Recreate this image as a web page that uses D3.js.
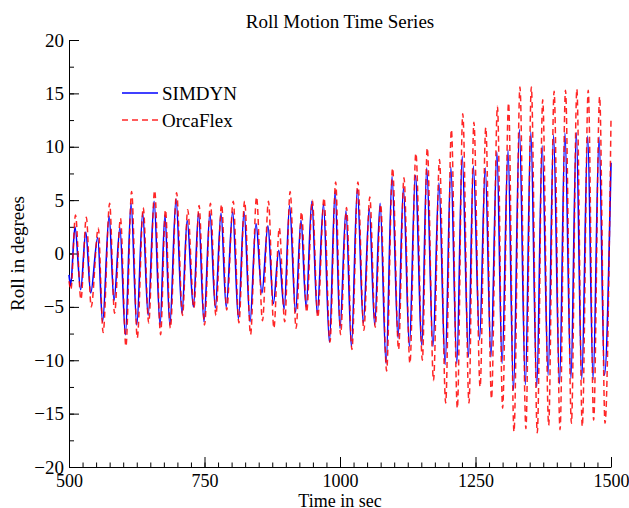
<!DOCTYPE html>
<html>
<head>
<meta charset="utf-8">
<script src="https://cdn.jsdelivr.net/npm/d3@7"></script>
<style>
  html, body { margin: 0; padding: 0; background: #fff; }
  svg text { font-family: "Liberation Serif", "Times New Roman", serif; fill: #000; }
  .axis path, .axis line { stroke: #000; stroke-width: 1; }
</style>
</head>
<body>
<div id="chart"></div>
<script>
// Roll motion extremes (peaks and troughs)
const simdynTime = [500, 503, 511, 521.5, 531, 540, 553, 562, 574, 583, 594, 604, 614.5, 625, 636, 646, 657, 668, 677, 686,
  697.5, 708.5, 718, 729.5, 739, 749, 760, 770, 780.5, 790, 802, 812.5, 823, 834, 845, 856, 867, 877, 887, 897,
  907, 918, 928, 937.5, 948, 958, 969.5, 980.5, 991, 1000, 1011, 1021, 1032, 1043, 1054, 1064, 1074, 1085, 1096, 1107,
  1117, 1128, 1139, 1151, 1160, 1171.5, 1182.5, 1194, 1204.5, 1215.5, 1225.5, 1237, 1246, 1257.5, 1268, 1278.5, 1289.5, 1299, 1310, 1320,
  1331, 1342, 1352, 1363, 1373, 1384, 1394, 1405, 1415, 1426, 1436, 1446, 1457, 1467, 1478, 1488, 1500];
const simdynRoll = [-2.0, -3.0, 2.5, -3.4, 2.0, -3.7, 1.5, -6.4, 3.5, -4.4, 2.4, -7.6, 4.7, -6.7, 3.8, -5.8, 4.9, -6.7, 3.6, -6.7,
  5.1, -5.6, 3.1, -5.0, 3.8, -6.4, 3.8, -5.1, 3.8, -5.0, 3.9, -6.1, 3.9, -6.4, 2.8, -3.7, 2.6, -4.7, 0.3, -5.2,
  4.5, -5.5, 3.1, -5.0, 4.9, -5.6, 4.6, -8.3, 5.8, -7.0, 4.0, -8.7, 6.0, -6.5, 4.2, -6.7, 4.7, -10.3, 7.2, -7.9,
  6.1, -8.7, 7.3, -8.6, 8.0, -8.7, 6.6, -10.4, 8.1, -10.3, 9.1, -9.7, 8.2, -8.1, 8.0, -9.7, 9.5, -10.3, 9.7, -12.8,
  11.6, -12.3, 11.4, -12.5, 10.1, -11.4, 11.1, -12.2, 11.3, -11.7, 11.3, -11.8, 11.0, -11.8, 10.9, -11.4, 8.5];

const orcaTime = [500, 503.5, 512, 522, 532, 541, 554, 563, 575, 584, 595, 605, 615.5, 626, 637, 647, 658, 669, 678, 687,
  698.5, 709.5, 719, 730.5, 740, 750, 761, 771, 781.5, 791, 803, 813.5, 824, 835, 846, 857, 868, 878, 888, 898,
  908, 919, 929, 938.5, 949, 959, 970.5, 981.5, 992, 1001, 1012, 1022, 1033, 1044, 1055, 1065, 1075, 1086, 1097, 1108,
  1118, 1129, 1140, 1152, 1161, 1172.5, 1183.5, 1195, 1205.5, 1216.5, 1226.5, 1238, 1247, 1258.5, 1269, 1279.5, 1290.5, 1300, 1311, 1321,
  1332, 1343, 1353, 1364, 1374, 1385, 1395, 1406, 1416, 1427, 1437, 1447, 1458, 1468, 1479, 1489, 1500];
const orcaRoll = [-2.6, -3.4, 3.6, -4.3, 3.4, -5.0, 2.4, -7.4, 4.7, -5.6, 3.3, -8.7, 5.8, -7.9, 4.3, -6.5, 5.9, -7.6, 4.1, -7.0,
  5.7, -5.8, 4.1, -5.1, 4.5, -6.7, 4.7, -5.8, 4.6, -5.3, 4.9, -6.5, 4.9, -7.6, 5.3, -6.3, 4.9, -7.0, 2.4, -6.4,
  5.8, -7.0, 3.9, -5.5, 5.0, -6.0, 5.2, -8.3, 6.7, -7.6, 4.3, -9.0, 6.7, -7.2, 5.3, -6.9, 4.6, -11.0, 8.0, -9.0,
  7.1, -10.3, 9.4, -10.0, 9.9, -11.9, 8.8, -14.0, 11.6, -14.5, 13.1, -14.0, 12.3, -12.5, 11.8, -13.6, 13.8, -14.5, 14.1, -16.7,
  15.6, -16.4, 15.6, -16.8, 14.4, -16.1, 15.2, -16.5, 15.3, -15.9, 15.4, -16.2, 15.3, -15.6, 14.7, -15.9, 12.6];

const xTicks = [500, 750, 1000, 1250, 1500];
const yTicks = [-20, -15, -10, -5, 0, 5, 10, 15, 20];
const seriesNames = ["SIMDYN", "OrcaFlex"];

const width = 629;
const height = 508;
const margin = { top: 40, right: 18, bottom: 41, left: 69 };

const svg = d3.select("#chart").append("svg")
  .attr("width", width)
  .attr("height", height);

const x = d3.scaleLinear().domain([500, 1500]).range([margin.left, width - margin.right]);
const y = d3.scaleLinear().domain([-20, 20]).range([height - margin.bottom, margin.top]);

// minor ticks first (no labels)
svg.append("g")
  .attr("class", "axis")
  .attr("transform", `translate(0,${y(-20)})`)
  .call(d3.axisBottom(x).tickValues(d3.range(500, 1501, 25)).tickSize(-4.5).tickFormat(""))
  .call(g => g.select(".domain").remove());

svg.append("g")
  .attr("class", "axis")
  .attr("transform", `translate(${x(500)},0)`)
  .call(d3.axisLeft(y).tickValues(d3.range(-20, 20.1, 2.5)).tickSize(-5).tickFormat(""))
  .call(g => g.select(".domain").remove());

// major axes
const xAxis = svg.append("g")
  .attr("class", "axis")
  .attr("transform", `translate(0,${y(-20)})`)
  .call(d3.axisBottom(x).tickValues(xTicks).tickFormat(d3.format("d"))
    .tickSizeInner(-10).tickSizeOuter(0).tickPadding(7));
xAxis.selectAll("text").attr("font-size", "18px");

const yAxis = svg.append("g")
  .attr("class", "axis")
  .attr("transform", `translate(${x(500)},0)`)
  .call(d3.axisLeft(y).tickValues(yTicks).tickSizeInner(-10).tickSizeOuter(0).tickPadding(5));
yAxis.selectAll("text").attr("font-size", "19px");

// curves through the extremes
const line = d3.line()
  .x(d => x(d[0]))
  .y(d => y(d[1]))
  .curve(d3.curveMonotoneX);

const simdyn = simdynTime.map((t, i) => [t, simdynRoll[i]]);
const orca = orcaTime.map((t, i) => [t, orcaRoll[i]]);

svg.append("path")
  .datum(simdyn)
  .attr("fill", "none")
  .attr("stroke", "#0000ff")
  .attr("stroke-width", 1.6)
  .attr("d", line);

svg.append("path")
  .datum(orca)
  .attr("fill", "none")
  .attr("stroke", "#ff0000")
  .attr("stroke-opacity", 0.85)
  .attr("stroke-width", 1.5)
  .attr("stroke-dasharray", "6,4")
  .attr("d", line);

// title and labels
svg.append("text")
  .attr("x", (x(500) + x(1500)) / 2)
  .attr("y", 28)
  .attr("text-anchor", "middle")
  .attr("font-size", "19px")
  .text("Roll Motion Time Series");

svg.append("text")
  .attr("x", (x(500) + x(1500)) / 2)
  .attr("y", 507)
  .attr("text-anchor", "middle")
  .attr("font-size", "18px")
  .text("Time in sec");

svg.append("text")
  .attr("transform", `translate(24,${(y(20) + y(-20)) / 2}) rotate(-90)`)
  .attr("text-anchor", "middle")
  .attr("font-size", "19px")
  .text("Roll in degrees");

// legend
const legend = svg.append("g").attr("transform", "translate(122,93)");
const legendStyles = [
  { color: "#0000ff", dash: null, opacity: 1 },
  { color: "#ff0000", dash: "6,4", opacity: 0.85 }
];
seriesNames.forEach((name, i) => {
  const row = legend.append("g").attr("transform", `translate(0,${i * 27})`);
  row.append("line")
    .attr("x1", 0).attr("x2", 36)
    .attr("y1", 0).attr("y2", 0)
    .attr("stroke", legendStyles[i].color)
    .attr("stroke-opacity", legendStyles[i].opacity)
    .attr("stroke-width", 1.5)
    .attr("stroke-dasharray", legendStyles[i].dash);
  row.append("text")
    .attr("x", 40)
    .attr("y", 7)
    .attr("font-size", "19px")
    .text(name);
});
</script>
</body>
</html>
